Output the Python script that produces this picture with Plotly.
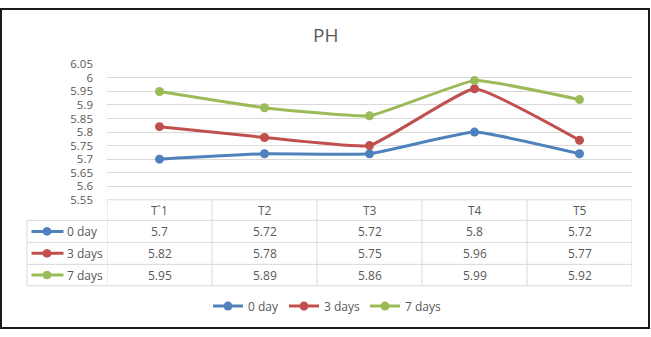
import plotly.graph_objects as go

categories = ["T`1", "T2", "T3", "T4", "T5"]
series_names = ["0 day", "3 days", "7 days"]
day0 = [5.7, 5.72, 5.72, 5.8, 5.72]
day3 = [5.82, 5.78, 5.75, 5.96, 5.77]
day7 = [5.95, 5.89, 5.86, 5.99, 5.92]
value_labels = [["5.7", "5.72", "5.72", "5.8", "5.72"],
                ["5.82", "5.78", "5.75", "5.96", "5.77"],
                ["5.95", "5.89", "5.86", "5.99", "5.92"]]
y_ticks = [5.55, 5.6, 5.65, 5.7, 5.75, 5.8, 5.85, 5.9, 5.95, 6.0, 6.05]
y_tick_labels = ["5.55", "5.6", "5.65", "5.7", "5.75", "5.8", "5.85", "5.9", "5.95", "6", "6.05"]
colors = ["#4F81BD", "#C0504D", "#9BBB59"]

W, H = 651, 337
def fx(px):
    return px / W
def fy(py):
    return 1 - py / H

TXT = "#595959"
GRID = "#D9D9D9"
FONT = "Open Sans"

plot_left, plot_right = 107, 632
plot_top, plot_bottom = 59, 200.7
row_edges = [200.7, 222.3, 245.3, 268.3, 290.7]
label_left = 27

fig = go.Figure()
for name, vals, c in zip(series_names, [day0, day3, day7], colors):
    fig.add_trace(go.Scatter(
        x=list(range(len(categories))), y=vals, name=name,
        mode="lines+markers",
        line=dict(color=c, width=3, shape="spline", smoothing=0.35),
        marker=dict(color=c, size=9),
        hoverinfo="skip",
    ))

shapes = []
annotations = []

# table horizontal lines
shapes.append(dict(type="line", xref="x", yref="paper", x0=-0.5, x1=len(categories) - 0.5,
                   y0=fy(row_edges[0]), y1=fy(row_edges[0]), line=dict(color=GRID, width=1)))
for e in row_edges[1:]:
    shapes.append(dict(type="line", xref="paper", yref="paper", x0=fx(label_left), x1=fx(plot_right),
                       y0=fy(e), y1=fy(e), line=dict(color=GRID, width=1)))
# vertical lines
for i in range(len(categories) + 1):
    shapes.append(dict(type="line", xref="x", yref="paper", x0=i - 0.5, x1=i - 0.5,
                       y0=fy(row_edges[0]), y1=fy(row_edges[-1]), line=dict(color=GRID, width=1)))
shapes.append(dict(type="line", xref="paper", yref="paper", x0=fx(label_left), x1=fx(label_left),
                   y0=fy(row_edges[1]), y1=fy(row_edges[-1]), line=dict(color=GRID, width=1)))

# header
hy = (row_edges[0] + row_edges[1]) / 2
for i, cat in enumerate(categories):
    annotations.append(dict(x=i, xref="x", y=fy(hy), yref="paper", text=cat, showarrow=False,
                            font=dict(family=FONT, size=12, color=TXT), xanchor="center", yanchor="middle"))
# rows
for r, name in enumerate(series_names):
    cy = (row_edges[r + 1] + row_edges[r + 2]) / 2
    for i, v in enumerate(value_labels[r]):
        annotations.append(dict(x=i, xref="x", y=fy(cy), yref="paper", text=v, showarrow=False,
                                font=dict(family=FONT, size=12, color=TXT), xanchor="center", yanchor="middle"))
    annotations.append(dict(x=fx(65), xref="paper", y=fy(cy), yref="paper", text=name, showarrow=False,
                            font=dict(family=FONT, size=12, color=TXT), xanchor="left", yanchor="middle"))
    shapes.append(dict(type="line", xref="paper", yref="paper", x0=fx(31.5), x1=fx(63.5),
                       y0=fy(cy), y1=fy(cy), line=dict(color=colors[r], width=3)))
    shapes.append(dict(type="circle", xref="paper", yref="paper", x0=fx(43), x1=fx(51),
                       y0=fy(cy - 4), y1=fy(cy + 4), fillcolor=colors[r], line=dict(color=colors[r], width=1)))

# outer border
shapes.append(dict(type="rect", xref="paper", yref="paper", x0=fx(1), x1=fx(649), y0=fy(1), y1=fy(335),
                   line=dict(color="#1a1a1a", width=2)))

annotations.append(dict(x=fx(325), xref="paper", y=fy(28), yref="paper", text="PH", showarrow=False,
                        font=dict(family=FONT, size=19, color=TXT), xanchor="center", yanchor="middle"))

fig.update_layout(
    width=W, height=H, margin=dict(l=0, r=0, t=0, b=0),
    paper_bgcolor="white", plot_bgcolor="white",
    xaxis=dict(domain=[fx(plot_left), fx(plot_right)], range=[-0.5, len(categories) - 0.5],
               showticklabels=False, showgrid=False, zeroline=False, showline=False, fixedrange=True),
    yaxis=dict(domain=[fy(plot_bottom), fy(plot_top)], range=[5.55, 6.05],
               tickvals=y_ticks, ticktext=y_tick_labels, showgrid=True, gridcolor=GRID, gridwidth=1,
               zeroline=False, showline=False, ticklabelstandoff=13,
               tickfont=dict(family=FONT, size=11.5, color=TXT), fixedrange=True),
    showlegend=True,
    legend=dict(orientation="h", x=fx(327), xanchor="center", y=fy(312), yanchor="middle",
                font=dict(family=FONT, size=12, color=TXT), bgcolor="rgba(0,0,0,0)"),
    shapes=shapes, annotations=annotations,
)

fig.write_html("out.html")
